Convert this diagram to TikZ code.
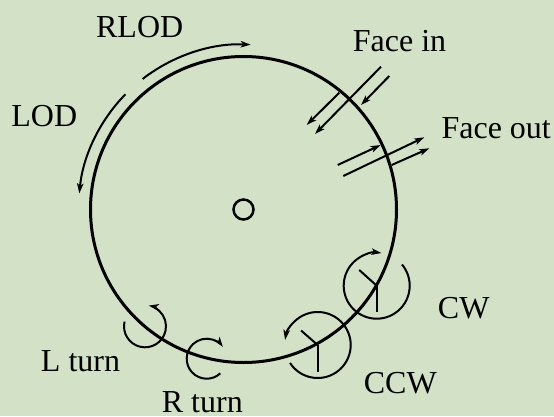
\documentclass[tikz,border=0pt]{standalone}
\usepackage{fontspec}
\setmainfont{Liberation Serif}
\usetikzlibrary{arrows.meta,calc}
\definecolor{bg}{RGB}{211,225,198}
\begin{document}
\begin{tikzpicture}[x=1pt,y=1pt,
  big/.style={line width=3pt},
  thin/.style={line width=2pt},
  arr/.style={line width=2pt,-{Stealth[length=10pt,width=6.5pt,inset=2.5pt]}},
  lbl/.style={font=\fontsize{32}{36}\selectfont,inner sep=0pt,anchor=base}]
\fill[bg] (0,0) rectangle (554,416);
\useasboundingbox (0,0) rectangle (554,416);
\coordinate (C) at (243.5,206.5);
% main circle and centre
\draw[big] (C) circle[radius=153];
\draw[line width=2.5pt] (C) circle[radius=10];
% LOD / RLOD
\draw[arr] ($(C)+(127.7:165)$) arc[start angle=127.7,end angle=87.5,radius=165];
\draw[arr] ($(C)+(135.7:165)$) arc[start angle=135.7,end angle=174.4,radius=165];
% Face in
\coordinate (fiL1) at (381,349.3); \coordinate (fiL2) at (315,282);
\coordinate (fiO1) at (389.3,340); \coordinate (fiO2) at (361,311);
\coordinate (fiI1) at (339.3,323.3); \coordinate (fiI2) at (306.7,291);
\draw[arr] (fiL1) -- (fiL2);
\draw[arr] (fiO1) -- (fiO2);
\draw[arr] (fiI1) -- (fiI2);
% Face out
\coordinate (foA1) at (337.7,251); \coordinate (foA2) at (380.7,271);
\coordinate (foB1) at (343.3,240); \coordinate (foB2) at (424.3,278.7);
\coordinate (foC1) at (391.7,251); \coordinate (foC2) at (429.3,267.7);
\draw[arr] (foA1) -- (foA2);
\draw[arr] (foB1) -- (foB2);
\draw[arr] (foC1) -- (foC2);
% CW
\coordinate (cw) at (376.7,130.3);
\draw[arr] ($(cw)+(40:33)$) arc[start angle=40,end angle=-278.4,radius=33];
\draw[thin] (cw) -- ++(0,-26);
\draw[thin] (cw) -- ++(138:23.5);
% CCW
\coordinate (ccw) at (317.7,71);
\draw[arr] ($(ccw)+(213:33)$) arc[start angle=213,end angle=531,radius=33];
\draw[thin] (ccw) -- ++(0,-26.5);
\draw[thin] (ccw) -- ++(139:22);
% L turn
\coordinate (lt) at (145,89.7);
\draw[arr] ($(lt)+(167:21)$) arc[start angle=167,end angle=440,radius=21];
% R turn
\coordinate (rt) at (206.7,57.3);
\draw[arr] ($(rt)+(-47:20)$) arc[start angle=-47,end angle=-324,radius=20];
% labels
\node[lbl] (rlod) at (139.7,378.7) {RLOD};
\node[lbl] (lod) at (44.3,289.3) {LOD};
\node[lbl] (fin) at (399.5,364.3) {Face in};
\node[lbl] (fout) at (496.2,277.7) {Face out};
\node[lbl] (cwl) at (463.7,98) {CW};
\node[lbl] (ccwl) at (400.3,23) {CCW};
\node[lbl] (ltl) at (80.5,45) {L turn};
\node[lbl] (rtl) at (202.3,4) {R turn};
\end{tikzpicture}
\end{document}
